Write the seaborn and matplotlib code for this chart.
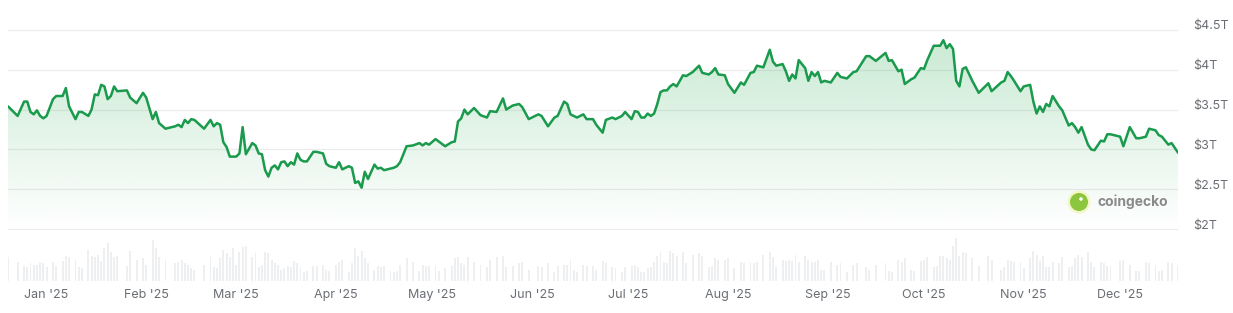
import matplotlib
matplotlib.use("Agg")
import matplotlib.pyplot as plt
import matplotlib.dates as mdates
import matplotlib.colors as mcolors
import matplotlib.transforms as mtransforms
from matplotlib.patches import Circle
import numpy as np
import pandas as pd
import seaborn as sns

# total crypto market cap ($T) + daily volume ($B)
DATES = """
2024-12-20 2024-12-23 2024-12-25 2024-12-26 2024-12-27 2024-12-28 2024-12-29 2024-12-30 2024-12-31
2025-01-01 2025-01-03 2025-01-04 2025-01-06 2025-01-07 2025-01-08 2025-01-10 2025-01-11 2025-01-12 2025-01-14
2025-01-15 2025-01-16 2025-01-17 2025-01-18 2025-01-19 2025-01-20 2025-01-21 2025-01-22 2025-01-23 2025-01-26
2025-01-27 2025-01-29 2025-01-31
2025-02-01 2025-02-03 2025-02-04 2025-02-05 2025-02-07 2025-02-10 2025-02-11 2025-02-12 2025-02-13 2025-02-14
2025-02-15 2025-02-16 2025-02-19 2025-02-21 2025-02-22 2025-02-23 2025-02-24 2025-02-25 2025-02-26 2025-02-27
2025-02-28
2025-03-01 2025-03-02 2025-03-03 2025-03-04 2025-03-06 2025-03-07 2025-03-08 2025-03-09 2025-03-10 2025-03-11
2025-03-12 2025-03-13 2025-03-14 2025-03-15 2025-03-16 2025-03-17 2025-03-18 2025-03-19 2025-03-20 2025-03-21
2025-03-22 2025-03-23 2025-03-25 2025-03-26 2025-03-28 2025-03-29 2025-03-30
2025-04-01 2025-04-02 2025-04-03 2025-04-05 2025-04-06 2025-04-07 2025-04-08 2025-04-09 2025-04-10 2025-04-11
2025-04-13 2025-04-14 2025-04-15 2025-04-16 2025-04-18 2025-04-19 2025-04-20 2025-04-21 2025-04-23 2025-04-25
2025-04-27 2025-04-28 2025-04-29 2025-04-30
2025-05-02 2025-05-03 2025-05-05 2025-05-07 2025-05-08 2025-05-09 2025-05-10 2025-05-11 2025-05-12 2025-05-14
2025-05-16 2025-05-18 2025-05-19 2025-05-21 2025-05-23 2025-05-24 2025-05-26 2025-05-28 2025-05-29 2025-05-31
2025-06-03 2025-06-04 2025-06-06 2025-06-08 2025-06-09 2025-06-11 2025-06-12 2025-06-13 2025-06-14 2025-06-15
2025-06-17 2025-06-18 2025-06-20 2025-06-21 2025-06-23 2025-06-24 2025-06-26 2025-06-27 2025-06-29 2025-06-30
2025-07-02 2025-07-03 2025-07-04 2025-07-05 2025-07-06 2025-07-07 2025-07-08 2025-07-09 2025-07-10 2025-07-11
2025-07-12 2025-07-13 2025-07-14 2025-07-15 2025-07-16 2025-07-18 2025-07-19 2025-07-21 2025-07-23 2025-07-24
2025-07-26 2025-07-27 2025-07-28 2025-07-29 2025-07-31
2025-08-01 2025-08-03 2025-08-05 2025-08-06 2025-08-08 2025-08-09 2025-08-10 2025-08-12 2025-08-14 2025-08-15
2025-08-16 2025-08-18 2025-08-19 2025-08-20 2025-08-21 2025-08-22 2025-08-23 2025-08-25 2025-08-26 2025-08-27
2025-08-28 2025-08-29 2025-08-30 2025-08-31
2025-09-02 2025-09-04 2025-09-05 2025-09-07 2025-09-09 2025-09-10 2025-09-13 2025-09-14 2025-09-16 2025-09-19
2025-09-20 2025-09-21 2025-09-23 2025-09-24 2025-09-25 2025-09-27 2025-09-28 2025-09-30
2025-10-01 2025-10-02 2025-10-04 2025-10-05 2025-10-06 2025-10-07 2025-10-08 2025-10-09 2025-10-10 2025-10-11
2025-10-12 2025-10-13 2025-10-14 2025-10-16 2025-10-18 2025-10-21 2025-10-22 2025-10-25 2025-10-26 2025-10-27
2025-10-28 2025-10-29 2025-10-31
2025-11-01 2025-11-03 2025-11-04 2025-11-05 2025-11-06 2025-11-07 2025-11-08 2025-11-09 2025-11-10 2025-11-12
2025-11-13 2025-11-15 2025-11-16 2025-11-17 2025-11-18 2025-11-19 2025-11-21 2025-11-22 2025-11-23 2025-11-25
2025-11-26 2025-11-27 2025-11-28
2025-12-01 2025-12-02 2025-12-04 2025-12-06 2025-12-07 2025-12-09 2025-12-10 2025-12-12 2025-12-13 2025-12-14
2025-12-16 2025-12-17 2025-12-19
""".split()

MCAP = [
    3.54, 3.42, 3.60, 3.60, 3.47, 3.44, 3.49, 3.42, 3.39,
    3.42, 3.63, 3.67, 3.67, 3.77, 3.54, 3.38, 3.47, 3.47, 3.42, 3.50, 3.69, 3.68, 3.81, 3.79, 3.63,
    3.67, 3.79, 3.73, 3.74, 3.65, 3.58, 3.71,
    3.65, 3.38, 3.47, 3.33, 3.26, 3.29, 3.31, 3.28, 3.37, 3.33, 3.38, 3.37, 3.26, 3.37, 3.29, 3.33,
    3.31, 3.09, 3.03, 2.91, 2.91,
    2.91, 2.95, 3.28, 2.94, 3.08, 3.05, 2.95, 2.94, 2.74, 2.66, 2.77, 2.80, 2.75, 2.84, 2.85, 2.79,
    2.84, 2.81, 2.95, 2.87, 2.85, 2.85, 2.97, 2.97, 2.95, 2.82, 2.79,
    2.77, 2.84, 2.75, 2.79, 2.77, 2.58, 2.60, 2.52, 2.72, 2.63, 2.81, 2.76, 2.77, 2.74, 2.76, 2.77,
    2.79, 2.84, 3.04, 3.05, 3.08, 3.05, 3.08, 3.06,
    3.13, 3.10, 3.04, 3.09, 3.10, 3.35, 3.39, 3.50, 3.44, 3.52, 3.43, 3.40, 3.48, 3.47, 3.64, 3.50,
    3.55, 3.57, 3.53, 3.38,
    3.44, 3.42, 3.29, 3.40, 3.42, 3.60, 3.57, 3.44, 3.42, 3.40, 3.44, 3.38, 3.38, 3.31, 3.21, 3.37,
    3.40, 3.38, 3.42, 3.47,
    3.38, 3.48, 3.47, 3.40, 3.40, 3.45, 3.42, 3.45, 3.57, 3.72, 3.74, 3.74, 3.79, 3.82, 3.79, 3.93,
    3.92, 3.97, 4.05, 3.96, 3.94, 3.97, 4.02, 3.94, 3.93,
    3.82, 3.71, 3.84, 3.81, 3.96, 3.97, 4.05, 4.03, 4.25, 4.10, 4.05, 4.07, 3.98, 3.86, 3.94, 3.89,
    4.12, 4.02, 3.86, 3.97, 3.92, 3.97, 3.84, 3.86,
    3.84, 3.96, 3.91, 3.89, 3.97, 3.98, 4.17, 4.17, 4.11, 4.21, 4.11, 4.12, 3.98, 4.00, 3.82, 3.88,
    3.90, 4.02,
    4.01, 4.12, 4.30, 4.30, 4.30, 4.37, 4.27, 4.32, 4.26, 3.86, 3.79, 4.01, 4.03, 3.86, 3.71, 3.83,
    3.73, 3.84, 3.86, 3.97, 3.92, 3.86, 3.73,
    3.79, 3.81, 3.60, 3.45, 3.54, 3.47, 3.57, 3.54, 3.67, 3.54, 3.49, 3.30, 3.33, 3.28, 3.21, 3.28,
    3.06, 3.00, 2.99, 3.11, 3.10, 3.19, 3.19,
    3.16, 3.04, 3.28, 3.14, 3.14, 3.16, 3.26, 3.24, 3.18, 3.16, 3.06, 3.08, 2.96,
]

VOLUME = [
    190, 150, 120, 110, 140, 130, 125, 150, 140,
    110, 150, 120, 160, 200, 190, 170, 110, 100, 250, 200, 190, 210, 160, 260, 300,
    230, 190, 200, 120, 240, 170, 180,
    130, 330, 260, 190, 170, 140, 150, 170, 140, 130, 100, 90, 130, 190, 110, 100,
    180, 250, 220, 190, 260,
    130, 230, 270, 280, 190, 220, 110, 130, 230, 220, 170, 140, 130, 90, 100, 120,
    110, 160, 140, 110, 70, 80, 120, 120, 130, 90, 80,
    130, 150, 170, 70, 140, 260, 200, 240, 180, 140, 90, 120, 110, 120, 80, 70,
    80, 130, 180, 150, 80, 130, 120, 120,
    120, 80, 100, 120, 180, 190, 140, 130, 190, 150, 130, 110, 170, 190, 200, 110,
    120, 140, 150, 90,
    120, 110, 140, 70, 120, 130, 130, 170, 90, 70, 130, 120, 120, 90, 160, 140,
    110, 100, 70, 110,
    120, 130, 110, 70, 70, 100, 110, 150, 200, 230, 150, 140, 240, 220, 200, 230,
    140, 210, 220, 200, 110, 120, 180, 170, 170,
    180, 100, 150, 140, 150, 140, 150, 210, 230, 190, 110, 170, 160, 170, 160, 210,
    150, 200, 170, 150, 150, 170, 90, 90,
    150, 130, 140, 70, 130, 140, 110, 90, 130, 140, 80, 70, 170, 150, 180, 90,
    80, 160,
    170, 190, 110, 120, 200, 200, 180, 170, 280, 340, 200, 230, 220, 180, 120, 200,
    170, 90, 110, 170, 160, 150, 150,
    100, 180, 240, 210, 160, 200, 110, 110, 150, 140, 190, 110, 120, 180, 210, 190,
    230, 150, 110, 150, 140, 120, 120,
    160, 170, 130, 80, 80, 150, 140, 130, 80, 90, 150, 140, 130,
]

MONTH_TICKS = ["2025-01-01", "2025-02-01", "2025-03-01", "2025-04-01", "2025-05-01", "2025-06-01",
               "2025-07-01", "2025-08-01", "2025-09-01", "2025-10-01", "2025-11-01", "2025-12-01"]
MONTH_LABELS = ["Jan '25", "Feb '25", "Mar '25", "Apr '25", "May '25", "Jun '25",
                "Jul '25", "Aug '25", "Sep '25", "Oct '25", "Nov '25", "Dec '25"]
PRICE_TICKS = [2.0, 2.5, 3.0, 3.5, 4.0, 4.5]
PRICE_LABELS = ["$2T", "$2.5T", "$3T", "$3.5T", "$4T", "$4.5T"]

GREEN = "#1a9a4c"
FILL = "#28aa50"
GRID = "#ececec"
TXT = "#6a6e74"

sns.set_theme(style="white")
plt.rcParams["font.family"] = ["Inter", "DejaVu Sans"]

df = pd.DataFrame({"date": pd.to_datetime(DATES), "mcap": MCAP, "volume": VOLUME})
W, H = 1233, 313
fig = plt.figure(figsize=(W / 100, H / 100), dpi=100)
fig.patch.set_facecolor("white")
ax = fig.add_axes([8 / W, 1 - 230 / H, 1170 / W, 201 / H])
axv = fig.add_axes([8 / W, 1 - 281 / H, 1170 / W, 44 / H])
x0, x1 = pd.Timestamp("2024-12-20"), pd.Timestamp("2025-12-19")

# price line + gradient fill
sns.lineplot(data=df, x="date", y="mcap", ax=ax, color=GREEN, lw=1.8, zorder=3)
xn = mdates.date2num(df["date"])
poly = ax.fill_between(xn, df["mcap"], 1.99, facecolor="none", edgecolor="none")
grad = np.zeros((256, 1, 4))
grad[..., :3] = mcolors.to_rgb(FILL)
grad[:, 0, 3] = np.linspace(0.0, 0.25, 256)
img = ax.imshow(grad, extent=[xn[0], xn[-1], 2.0, 4.4], origin="lower", aspect="auto", zorder=2)
img.set_clip_path(poly.get_paths()[0], transform=ax.transData)

ax.set_xlim(x0, x1); ax.set_ylim(1.99, 4.51)
ax.grid(axis="y", color=GRID, lw=0.9); ax.grid(axis="x", visible=False)
ax.set_axisbelow(True)
ax.yaxis.tick_right()
ax.set_yticks(PRICE_TICKS, PRICE_LABELS)
ax.set_xticks([]); ax.set_xlabel(""); ax.set_ylabel("")
ax.tick_params(axis="y", length=0, pad=11, labelsize=9, labelcolor=TXT)
off = mtransforms.ScaledTranslation(0, 0.05, fig.dpi_scale_trans)
for lbl in ax.get_yticklabels():
    lbl.set_transform(lbl.get_transform() + off)
sns.despine(ax=ax, left=True, bottom=True, right=True, top=True)

# volume bars (very faint in the original)
axv.bar(df["date"], df["volume"], width=0.6, color="#eeeff1", linewidth=0)
axv.set_xlim(x0, x1); axv.set_ylim(0, 350)
axv.set_yticks([])
axv.set_xticks(pd.to_datetime(MONTH_TICKS), MONTH_LABELS)
axv.tick_params(axis="x", length=0, pad=6, labelsize=9, labelcolor=TXT)
sns.despine(ax=axv, left=True, bottom=True, right=True, top=True)

# coingecko watermark
cx, cy = 1079 / 100, (H - 202) / 100
fig.add_artist(Circle((cx, cy), 0.115, transform=fig.dpi_scale_trans, color="#f3f6c8", lw=0))
fig.add_artist(Circle((cx, cy), 0.09, transform=fig.dpi_scale_trans, color="#8cc63f", lw=0))
fig.add_artist(Circle((cx + 0.02, cy + 0.03), 0.018, transform=fig.dpi_scale_trans, color="white", lw=0))
fig.text(1097 / W, 1 - 202 / H, "coingecko", ha="left", va="center",
         fontsize=10, fontweight="bold", color="#8a8a8a")

fig.savefig("out.png", dpi=100, facecolor="white")
